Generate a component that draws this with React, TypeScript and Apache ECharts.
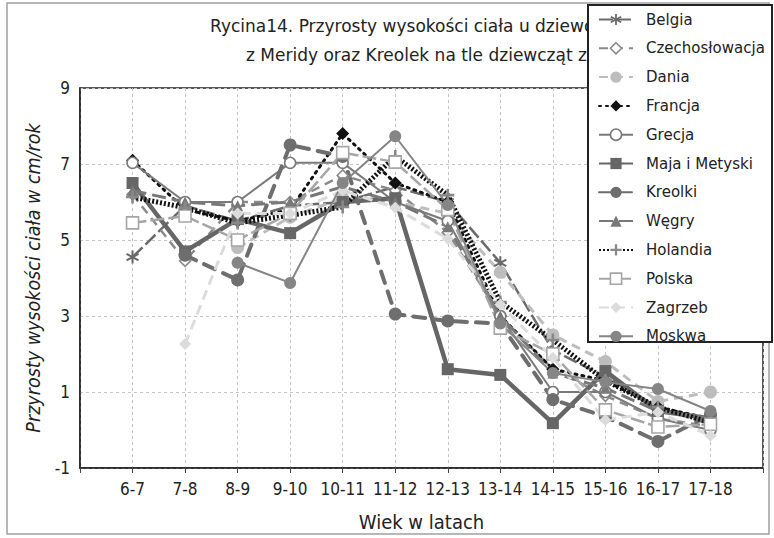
import React, { useEffect, useRef } from "react";
import * as echarts from "echarts";

const categories = ["6-7", "7-8", "8-9", "9-10", "10-11", "11-12", "12-13", "13-14", "14-15", "15-16", "16-17", "17-18"];
const yTicks = [-1, 1, 3, 5, 7, 9];

const belgia = [4.55, 5.9, 5.5, 5.9, 6.0, 6.4, 6.0, 4.4, 2.1, 1.4, 0.6, 0.15];
const czechoslowacja = [6.2, 4.45, 6.0, 6.0, 6.7, 6.3, 5.2, 3.0, 1.6, 0.9, 0.3, 0.1];
const dania = [null, null, 4.8, 5.6, 6.1, 6.0, 5.7, 4.15, 2.5, 1.8, 0.75, 1.0];
const francja = [7.1, 5.8, 5.5, 5.8, 7.8, 6.5, 6.0, 3.0, 1.6, 1.3, 0.6, 0.3];
const grecja = [7.03, 6.0, 6.0, 7.03, 7.03, 6.0, 5.5, 3.0, 1.0, 1.0, 0.3, 0.0];
const majaMetyski = [6.5, 4.7, 5.55, 5.18, 6.0, 6.1, 1.6, 1.45, 0.18, 1.55, 0.5, 0.3];
const kreolki = [null, 4.6, 3.95, 7.5, 7.2, 3.05, 2.87, 2.8, 0.8, 0.35, -0.3, 0.4];
const wegry = [6.3, 6.0, 5.9, 6.0, 6.4, 6.0, 5.35, 3.0, 1.5, 1.1, 0.5, 0.3];
const holandia = [6.13, 5.85, 5.45, 5.65, 5.87, 7.2, 6.18, 3.37, 2.37, 1.3, 0.6, 0.2];
const polska = [5.45, 5.63, 5.0, 5.7, 7.3, 7.05, 5.8, 2.68, 2.0, 0.53, 0.08, 0.15];
const zagrzeb = [null, 2.26, 5.7, 5.7, 6.3, 5.85, 5.03, 3.3, 1.9, 0.26, 0.47, -0.15];
const moskwa = [null, null, 4.4, 3.87, 6.5, 7.73, 5.92, 2.8, 1.5, 1.26, 1.08, 0.5];

const titleLine1 = "Rycina14. Przyrosty wysokości ciała u dziewcząt";
const titleLine2 = "z Meridy oraz Kreolek na tle dziewcząt z Europy";
const xName = "Wiek w latach";
const yName = "Przyrosty wysokości ciała w cm/rok";

const ASTERISK =
  "path://M8.5 0 L11.5 0 L11.5 20 L8.5 20 Z M17.91 3.70 L19.41 6.30 L2.09 16.30 L0.59 13.70 Z M0.59 6.30 L2.09 3.70 L19.41 13.70 L17.91 16.30 Z";
const PLUS = "path://M8 0 H12 V8 H20 V12 H12 V20 H8 V12 H0 V8 H8 Z";

const NARROW = '"Liberation Sans Narrow", "DejaVu Sans Condensed", "Liberation Sans", sans-serif';
const VERD = '"DejaVu Sans", sans-serif';

type Spec = {
  name: string;
  data: (number | null)[];
  color: string;
  lineColor?: string;
  width: number;
  type: any;
  symbol: string;
  size: number;
  empty?: boolean;
  cap?: string;
};

const specs: Spec[] = [
  { name: "Belgia", data: belgia, color: "#6a6a6a", width: 2.5, type: [14, 4], symbol: ASTERISK, size: 13 },
  { name: "Czechosłowacja", data: czechoslowacja, color: "#8a8a8a", width: 2.5, type: [9, 6], symbol: "diamond", size: 11, empty: true },
  { name: "Dania", data: dania, color: "#bdbdbd", width: 3, type: [9, 6], symbol: "circle", size: 13 },
  { name: "Francja", data: francja, color: "#111111", width: 3, type: [2, 5], symbol: "diamond", size: 13, cap: "round" },
  { name: "Grecja", data: grecja, color: "#7a7a7a", width: 2, type: "solid", symbol: "circle", size: 11, empty: true },
  { name: "Maja i Metyski", data: majaMetyski, color: "#666666", width: 4.5, type: "solid", symbol: "rect", size: 12 },
  { name: "Kreolki", data: kreolki, color: "#6e6e6e", width: 4, type: [12, 9], symbol: "circle", size: 13, cap: "round" },
  { name: "Węgry", data: wegry, color: "#787878", width: 3, type: [14, 6], symbol: "triangle", size: 11 },
  { name: "Holandia", data: holandia, color: "#888888", lineColor: "#111111", width: 5, type: [2, 2], symbol: PLUS, size: 13 },
  { name: "Polska", data: polska, color: "#a6a6a6", width: 2.5, type: [14, 4], symbol: "rect", size: 12, empty: true },
  { name: "Zagrzeb", data: zagrzeb, color: "#dcdcdc", width: 3, type: [10, 6], symbol: "diamond", size: 12 },
  { name: "Moskwa", data: moskwa, color: "#858585", width: 2, type: "solid", symbol: "circle", size: 12 },
];

export default function App() {
  const ref = useRef<HTMLDivElement>(null);
  useEffect(() => {
    document.body.style.margin = "0";
    if (!ref.current) return;
    const chart = echarts.init(ref.current, null, { renderer: "svg" });
    const series = specs.map((s) => ({
      name: s.name,
      type: "line",
      data: s.data.map((v, i) => (v == null ? null : [i, v])).filter((d) => d !== null),
      symbol: s.symbol,
      symbolSize: s.size,
      showAllSymbol: true,
      lineStyle: { color: s.lineColor || s.color, width: s.width, type: s.type, cap: s.cap || "butt" },
      itemStyle: s.empty
        ? { color: "#ffffff", borderColor: s.color, borderWidth: 1.6 }
        : { color: s.color, borderWidth: 0 },
      emphasis: { disabled: true },
      z: 2,
    }));
    const legendData = specs.map((s) =>
      s.empty
        ? { name: s.name, itemStyle: { color: "#ffffff", borderColor: s.color, borderWidth: 1.6 } }
        : { name: s.name }
    );
    chart.setOption({
      animation: false,
      backgroundColor: "#ffffff",
      title: [
        { text: titleLine1, left: 205, top: 12, z: 1, textStyle: { fontFamily: VERD, fontSize: 17, fontWeight: "normal", color: "#222" } },
        { text: titleLine2, left: 241, top: 41, z: 1, textStyle: { fontFamily: VERD, fontSize: 17, fontWeight: "normal", color: "#222" } },
      ],
      graphic: [
        { type: "rect", z: 0, silent: true, shape: { x: 7, y: 3, width: 762, height: 531 }, style: { fill: "none", stroke: "#a0a0a0", lineWidth: 1.5 } },
        { type: "rect", z: 3, silent: true, shape: { x: 588, y: 5, width: 184, height: 337 }, style: { fill: "#ffffff", stroke: "#222222", lineWidth: 2 } },
      ],
      legend: {
        z: 4,
        orient: "vertical",
        left: 598,
        top: 12,
        itemWidth: 34,
        itemHeight: 14,
        itemGap: 13.8,
        padding: 0,
        textStyle: { fontFamily: VERD, fontSize: 15, color: "#222", padding: [0, 0, 0, 8] },
        data: legendData,
      },
      grid: { left: 80, right: 11, top: 88, bottom: 70, show: true, borderColor: "#222", borderWidth: 1.5, backgroundColor: "transparent" },
      xAxis: {
        type: "value",
        min: -1,
        max: 12,
        interval: 1,
        name: xName,
        nameLocation: "middle",
        nameGap: 44,
        nameTextStyle: { fontFamily: NARROW, fontSize: 20, color: "#222" },
        axisLine: { show: true, onZero: false, lineStyle: { color: "#222", width: 1.5 } },
        axisTick: { show: true, inside: false, length: 5, lineStyle: { color: "#444" } },
        axisLabel: {
          margin: 12,
          fontFamily: NARROW,
          fontSize: 17,
          color: "#222",
          formatter: (v: number) => (categories[v] !== undefined ? categories[v] : ""),
        },
        splitLine: { show: true, lineStyle: { color: "#c4c4c4", type: [3, 3], width: 1 } },
      },
      yAxis: {
        type: "value",
        min: yTicks[0],
        max: yTicks[yTicks.length - 1],
        interval: 2,
        name: yName,
        nameLocation: "middle",
        nameGap: 37,
        nameTextStyle: { fontFamily: NARROW, fontSize: 19.5, fontStyle: "italic", color: "#222" },
        axisLine: { show: true, onZero: false, lineStyle: { color: "#222", width: 1.5 } },
        axisTick: { show: false },
        axisLabel: { margin: 10, fontFamily: NARROW, fontSize: 17, color: "#222" },
        splitLine: { show: true, lineStyle: { color: "#c4c4c4", type: [3, 3], width: 1 } },
      },
      series,
    });
    return () => chart.dispose();
  }, []);
  return <div ref={ref} style={{ width: 774, height: 538 }} />;
}
